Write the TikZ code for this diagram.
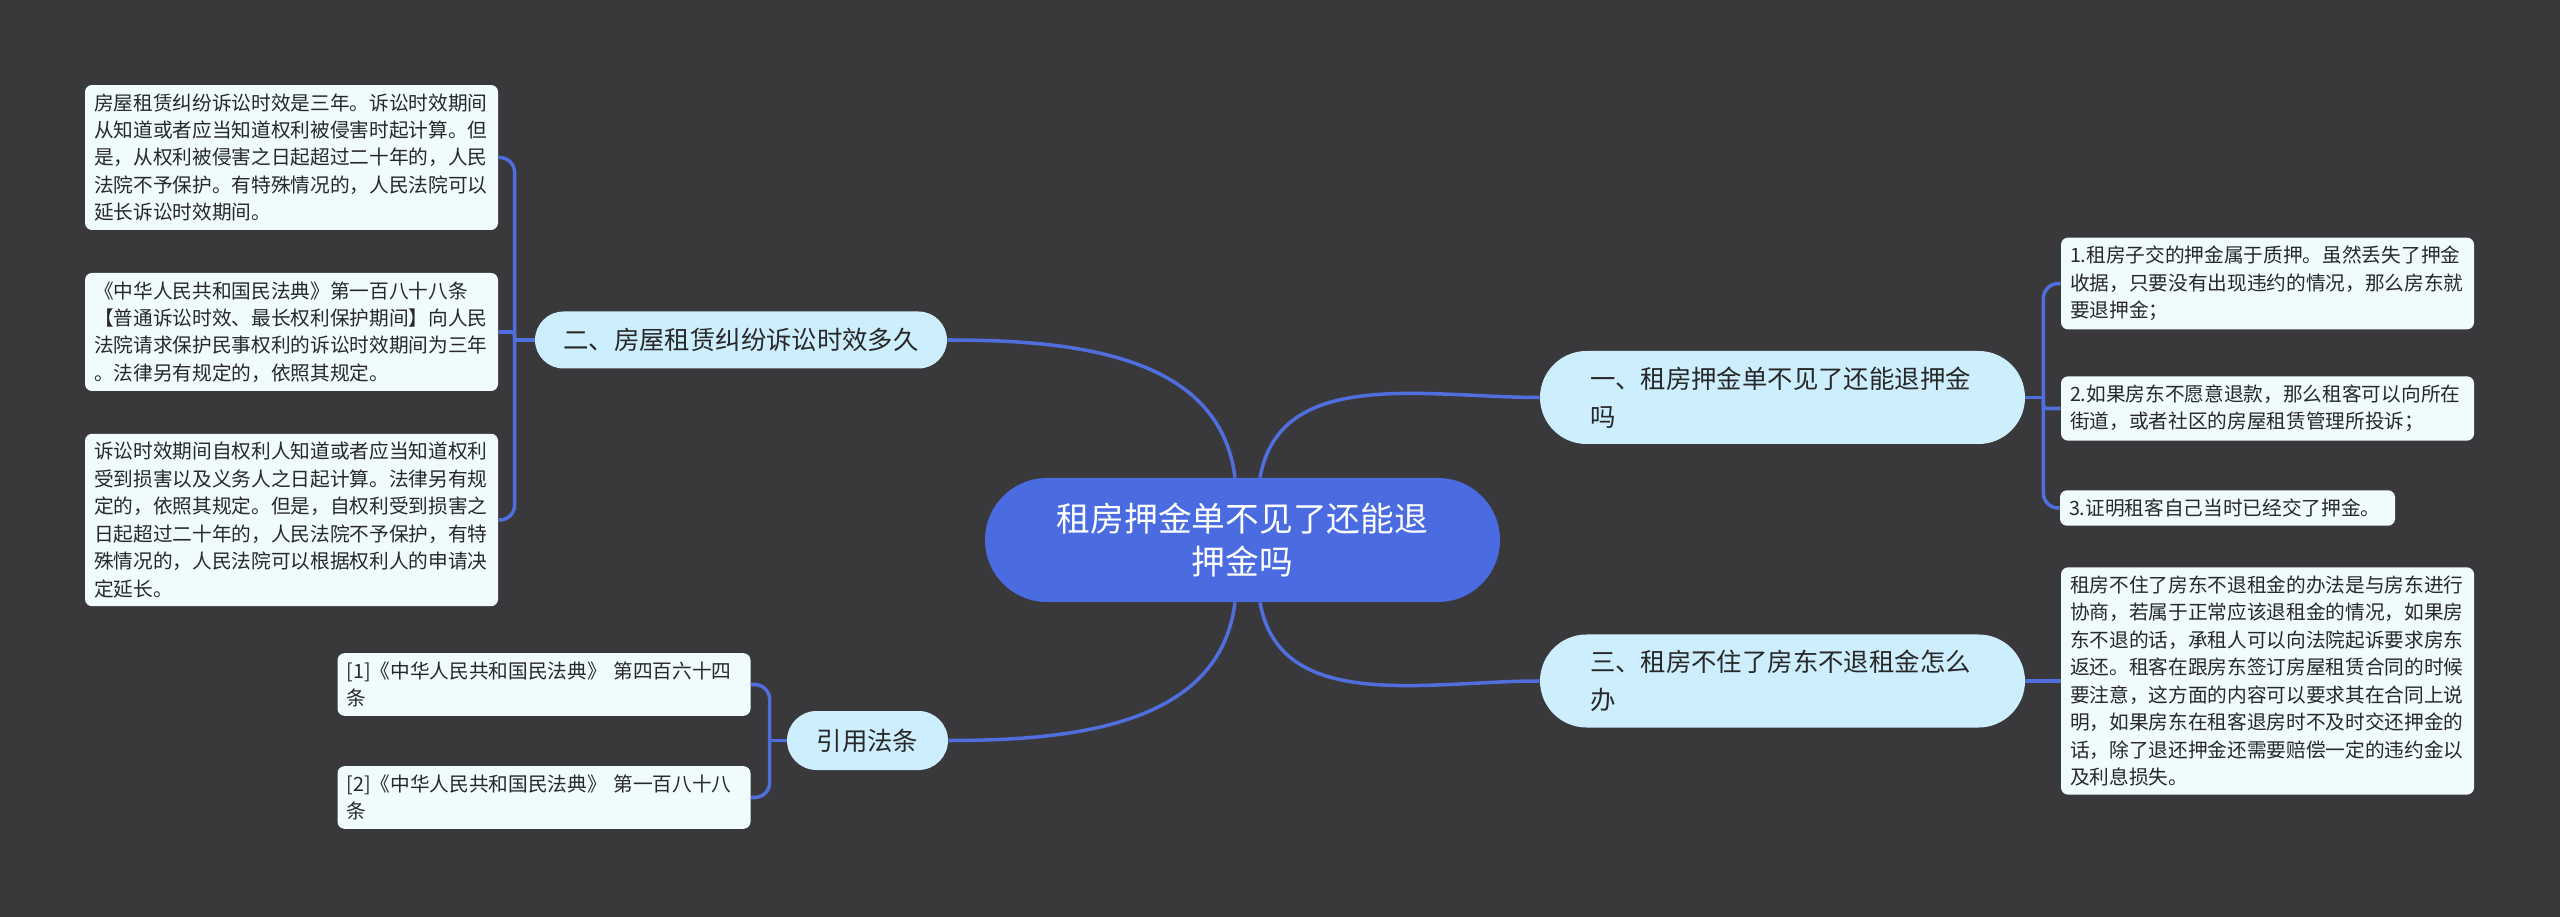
\documentclass[tikz,border=0pt]{standalone}
\usepackage{fontspec}
\setmainfont{Noto Sans CJK SC}
\usetikzlibrary{shapes.misc, calc}
\definecolor{mmBack}{RGB}{57, 56, 58}
\definecolor{mmLine}{RGB}{80, 110, 222}
\definecolor{mmRoot}{RGB}{74, 108, 224}
\definecolor{mmSky}{RGB}{205, 238, 253}
\definecolor{mmLeaf}{RGB}{240, 251, 254}
\definecolor{mmText}{RGB}{40, 40, 40}

\begin{document}
\begin{tikzpicture}[
      conn/.style={draw=mmLine, line width=2pt},
      rootbox/.style={rounded rectangle, fill=mmRoot, text=white, inner xsep=0pt,
                      minimum width=10.3cm, minimum height=2.48cm, align=center,
                      font=\fontsize{19.2}{24.2}\selectfont},
      branchbox/.style={rounded rectangle, fill=mmSky, text=mmText, inner xsep=0pt,
                        align=left, font=\fontsize{14.45}{21.3}\selectfont},
      leafbox/.style={rectangle, rounded corners=0.14cm, fill=mmLeaf, text=mmText,
                      align=left, text width=7.9cm, inner xsep=0.18cm, inner ysep=0.17cm,
                      font=\fontsize{11.2}{15.6}\selectfont}]
    \fill[mmBack] (0,0) rectangle (51.2,-18.34);
    \useasboundingbox (0,0) rectangle (51.2,-18.34);

    % centre and branches
    \node[rootbox] (root) at (24.85,-10.80) {租房押金单不见了还能退\\押金吗};
    \node[branchbox, minimum width=9.7cm, minimum height=1.86cm, text width=7.7cm]
        (b1) at (35.65,-7.95) {一、租房押金单不见了还能退押金\\吗};
    \node[branchbox, minimum width=9.7cm, minimum height=1.86cm, text width=7.7cm]
        (b3) at (35.65,-13.62) {三、租房不住了房东不退租金怎么\\办};
    \node[branchbox, minimum width=8.24cm, minimum height=1.14cm]
        (b2) at (14.82,-6.80) {二、房屋租赁纠纷诉讼时效多久};
    \node[branchbox, minimum width=3.22cm, minimum height=1.18cm]
        (b4) at (17.35,-14.81) {引用法条};

    % leaves, left
    \node[leafbox] (l1) at (5.83,-3.15) {房屋租赁纠纷诉讼时效是三年。诉讼时效期间\\从知道或者应当知道权利被侵害时起计算。但\\是，从权利被侵害之日起超过二十年的，人民\\法院不予保护。有特殊情况的，人民法院可以\\延长诉讼时效期间。};
    \node[leafbox] (l2) at (5.83,-6.64) {《中华人民共和国民法典》第一百八十八条\\【普通诉讼时效、最长权利保护期间】向人民\\法院请求保护民事权利的诉讼时效期间为三年\\。法律另有规定的，依照其规定。};
    \node[leafbox] (l3) at (5.83,-10.40) {诉讼时效期间自权利人知道或者应当知道权利\\受到损害以及义务人之日起计算。法律另有规\\定的，依照其规定。但是，自权利受到损害之\\日起超过二十年的，人民法院不予保护，有特\\殊情况的，人民法院可以根据权利人的申请决\\定延长。};
    \node[leafbox] (l4) at (10.88,-13.69) {[1]《中华人民共和国民法典》 第四百六十四\\条};
    \node[leafbox] (l5) at (10.88,-15.95) {[2]《中华人民共和国民法典》 第一百八十八\\条};

    % leaves, right
    \node[leafbox] (r1) at (45.35,-5.67) {1.租房子交的押金属于质押。虽然丢失了押金\\收据，只要没有出现违约的情况，那么房东就\\要退押金；};
    \node[leafbox] (r2) at (45.35,-8.17) {2.如果房东不愿意退款，那么租客可以向所在\\街道，或者社区的房屋租赁管理所投诉；};
    \node[leafbox, text width=6.34cm] (r3) at (44.55,-10.16) {3.证明租客自己当时已经交了押金。};
    \node[leafbox] (r4) at (45.35,-13.62) {租房不住了房东不退租金的办法是与房东进行\\协商，若属于正常应该退租金的情况，如果房\\东不退的话，承租人可以向法院起诉要求房东\\返还。租客在跟房东签订房屋租赁合同的时候\\要注意，这方面的内容可以要求其在合同上说\\明，如果房东在租客退房时不及时交还押金的\\话，除了退还押金还需要赔偿一定的违约金以\\及利息损失。};

    % root to branches
    \draw[conn] ([xshift=0.35cm]root.north) to[out=80, in=180] (b1.west);
    \draw[conn] ([xshift=-0.15cm]root.north) to[out=97, in=0] (b2.east);
    \draw[conn] ([xshift=0.35cm]root.south) to[out=-80, in=180] (b3.west);
    \draw[conn] ([xshift=-0.15cm]root.south) to[out=-97, in=0] (b4.east);

    % brackets
    \draw[conn] (b2.west) -- ++(-0.4,0) coordinate (j2);
    \foreach \lf in {l1, l3}
      \draw[conn, rounded corners=0.3cm] (j2) |- (\lf.east);
    \draw[conn, rounded corners=2pt] (j2) |- (l2.east);

    \draw[conn] (b1.east) -- ++(0.36,0) coordinate (j1);
    \foreach \lf in {r1, r3}
      \draw[conn, rounded corners=0.3cm] (j1) |- (\lf.west);
    \draw[conn, rounded corners=2pt] (j1) |- (r2.west);

    \draw[conn] (b4.west) -- ++(-0.34,0) coordinate (j4);
    \foreach \lf in {l4, l5}
      \draw[conn, rounded corners=0.3cm] (j4) |- (\lf.east);

    \draw[conn] (b3.east) -- (r4.west);
  \end{tikzpicture}
\end{document}
